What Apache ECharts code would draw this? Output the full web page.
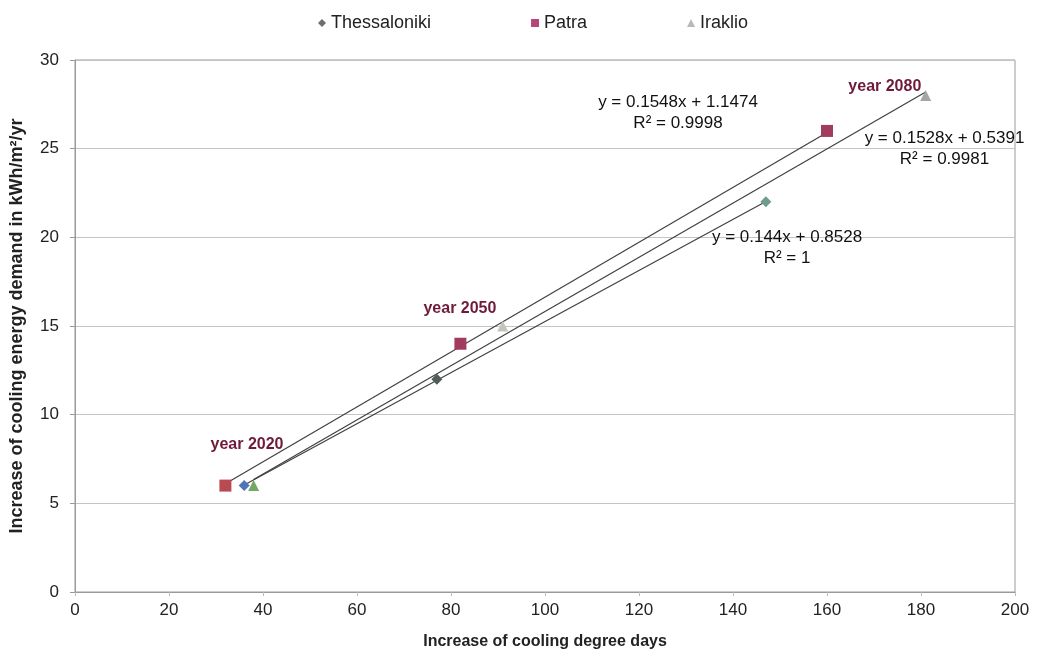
<!DOCTYPE html>
<html>
<head>
<meta charset="utf-8">
<script src="https://cdn.jsdelivr.net/npm/echarts@6/dist/echarts.min.js"></script>
<style>
  html, body { margin: 0; padding: 0; background: #fff; }
  #chart { width: 1048px; height: 651px; }
</style>
</head>
<body>
<div id="chart"></div>
<script>
// Increase of cooling degree days (x) vs increase of cooling energy demand (y)
const years = ['year 2020', 'year 2050', 'year 2080'];

const thessalonikiX = [36, 77, 147];
const thessalonikiY = [6, 12, 22];
const patraX = [32, 82, 160];
const patraY = [6, 14, 26];
const iraklioX = [38, 91, 181];
const iraklioY = [6, 15, 28];

// Linear trendlines: slope, intercept, R²
const trendSlope = { Thessaloniki: 0.144, Patra: 0.1548, Iraklio: 0.1528 };
const trendIntercept = { Thessaloniki: 0.8528, Patra: 1.1474, Iraklio: 0.5391 };
const trendR2 = { Thessaloniki: '1', Patra: '0.9998', Iraklio: '0.9981' };

const xTicks = [0, 20, 40, 60, 80, 100, 120, 140, 160, 180, 200];
const yTicks = [0, 5, 10, 15, 20, 25, 30];

// Per-point marker colours (2020, 2050, 2080)
const pointColors = {
  Thessaloniki: ['#4f74b8', '#4f5d58', '#6f9c8c'],
  Patra: ['#b94a52', '#a23c5f', '#a23c5f'],
  Iraklio: ['#74a862', '#c4c4bb', '#a3a7a3']
};

// Where the equation and year annotations sit, in data units
const eqAnchor = { Thessaloniki: [151.5, 19.4], Patra: [128.3, 27.0], Iraklio: [185.0, 25.0] };
const yearAnchor = [[36.6, 8.3], [81.9, 16.0], [172.3, 28.5]];

const font = 'Liberation Sans, Arial, sans-serif';

function points(name, xs, ys) {
  return xs.map((x, i) => ({ value: [x, ys[i]], itemStyle: { color: pointColors[name][i] } }));
}
function trend(name, xs) {
  const lo = Math.min(...xs), hi = Math.max(...xs);
  const m = trendSlope[name], b = trendIntercept[name];
  return [[lo, m * lo + b], [hi, m * hi + b]];
}
function eqLabel(name) {
  return 'y = ' + trendSlope[name] + 'x + ' + trendIntercept[name] + '\nR² = ' + trendR2[name];
}

const series = [];
const names = ['Thessaloniki', 'Patra', 'Iraklio'];
const xsBy = { Thessaloniki: thessalonikiX, Patra: patraX, Iraklio: iraklioX };
names.forEach(n => {
  series.push({
    name: n + ' trend', type: 'line', data: trend(n, xsBy[n]), symbol: 'none', silent: true,
    lineStyle: { color: '#404040', width: 1.2 }, z: 2
  });
});
series.push({
  name: 'Thessaloniki', type: 'scatter', symbol: 'diamond', symbolSize: 11,
  itemStyle: { color: '#6e6e6e', opacity: 1 }, data: points('Thessaloniki', thessalonikiX, thessalonikiY), z: 4
});
series.push({
  name: 'Patra', type: 'scatter', symbol: 'rect', symbolSize: 12,
  itemStyle: { color: '#b8457a', opacity: 1 }, data: points('Patra', patraX, patraY), z: 4
});
series.push({
  name: 'Iraklio', type: 'scatter', symbol: 'triangle', symbolSize: 11,
  itemStyle: { color: '#b8b8b8', opacity: 1 }, data: points('Iraklio', iraklioX, iraklioY), z: 4
});
// Trendline equations
series.push({
  name: 'equations', type: 'scatter', symbolSize: 0, silent: true, z: 5,
  itemStyle: { opacity: 1 },
  data: names.map(n => ({ value: eqAnchor[n], label: { formatter: eqLabel(n) } })),
  label: {
    show: true, position: 'inside', align: 'center', verticalAlign: 'middle',
    fontFamily: font, fontSize: 17, color: '#111', lineHeight: 21,
    textBorderWidth: 0
  }
});
// Year annotations
series.push({
  name: 'years', type: 'scatter', symbolSize: 0, silent: true, z: 5,
  itemStyle: { opacity: 1 },
  data: yearAnchor.map((p, i) => ({ value: p, label: { formatter: years[i] } })),
  label: {
    show: true, position: 'inside', align: 'center', verticalAlign: 'middle',
    fontFamily: font, fontSize: 16, fontWeight: 'bold', color: '#6e1a3a',
    textBorderWidth: 0
  }
});

const chart = echarts.init(document.getElementById('chart'));
chart.setOption({
  animation: false,
  backgroundColor: '#fff',
  legend: {
    data: ['Thessaloniki', 'Patra', 'Iraklio'],
    top: 9, left: 313, itemGap: 100, itemWidth: 8, itemHeight: 8,
    textStyle: { fontFamily: font, fontSize: 18, color: '#222' }
  },
  grid: {
    left: 75, right: 33, top: 60, bottom: 59, show: true,
    borderColor: '#9a9a9a', borderWidth: 1,
    outerBoundsMode: 'none', containLabel: false
  },
  xAxis: {
    type: 'value', min: xTicks[0], max: xTicks[xTicks.length - 1], interval: 20,
    name: 'Increase of cooling degree days', nameLocation: 'middle', nameGap: 42,
    nameTextStyle: { fontFamily: font, fontSize: 16, fontWeight: 'bold', color: '#222' },
    axisLine: { lineStyle: { color: '#9a9a9a' } },
    axisTick: { show: true, length: 4, lineStyle: { color: '#bbb' } },
    axisLabel: { fontFamily: font, fontSize: 17, color: '#222', margin: 10 },
    splitLine: { show: false }
  },
  yAxis: {
    type: 'value', min: yTicks[0], max: yTicks[yTicks.length - 1], interval: 5,
    name: 'Increase of cooling energy demand in kWh/m²/yr', nameLocation: 'middle', nameGap: 49,
    nameTextStyle: { fontFamily: font, fontSize: 18, fontWeight: 'bold', color: '#222' },
    axisLine: { show: true, lineStyle: { color: '#9a9a9a' } },
    axisTick: { show: true, length: 5, lineStyle: { color: '#9a9a9a' } },
    axisLabel: { fontFamily: font, fontSize: 17, color: '#222', margin: 16 },
    splitLine: { show: true, lineStyle: { color: '#c4c4c4', width: 1 } }
  },
  series: series
});
</script>
</body>
</html>
